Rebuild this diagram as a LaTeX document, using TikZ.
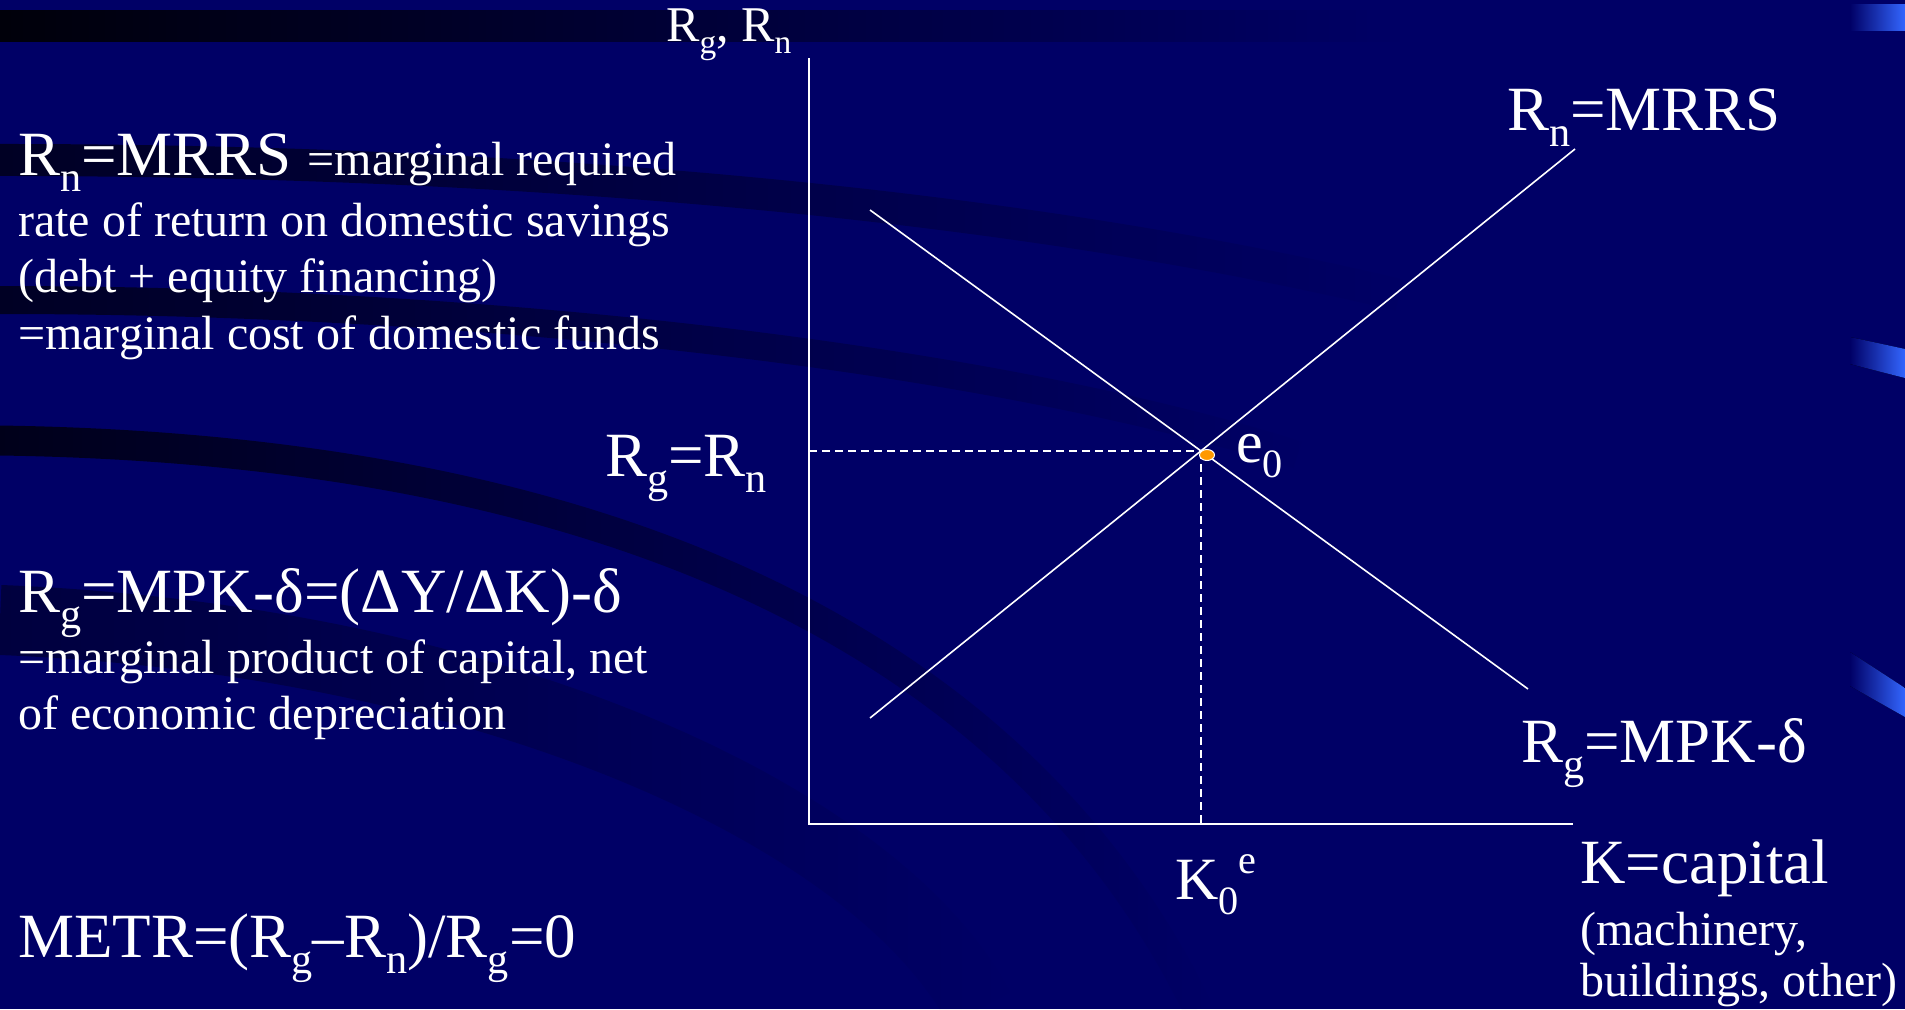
\documentclass[tikz,border=0pt]{standalone}
\usepackage{fontspec}
\usepackage{graphicx}
\setmainfont{Liberation Serif}
\usetikzlibrary{fadings,shapes.geometric}
\definecolor{navy}{RGB}{0,0,102}
\definecolor{tabblue}{RGB}{51,102,255}
\definecolor{dotorange}{RGB}{255,153,0}
\newcommand\lo[1]{\raisebox{-0.26em}{\scalebox{0.67}{#1}}}
\newcommand\hi[1]{\raisebox{0.42em}{\scalebox{0.67}{#1}}}
\tikzset{
  txt/.style={text=white,inner sep=0pt,anchor=base west},
  bigtxt/.style={txt,font=\fontsize{63}{75}\selectfont},
  smalltxt/.style={txt,font=\fontsize{48}{57}\selectfont},
  axis/.style={draw=white,line width=2.2pt},
  curve/.style={draw=white,line width=1.6pt},
  guide/.style={draw=white,line width=1.6pt,dash pattern=on 8pt off 5pt},
  swoosh/.style={draw=black,path fading=east},
  tab/.style={left color=navy,right color=tabblue,draw=none}
}
\begin{document}
\begin{tikzpicture}[x=1pt,y=-1pt]
% background
\fill[navy] (0,0) rectangle (1905,1009);
\useasboundingbox (0,0) rectangle (1905,1009);
\fill[black,path fading=east,opacity=0.9] (0,10) rectangle (1400,42);
\draw[swoosh,line width=32pt,draw opacity=0.65] (0,160) .. controls (500,160) and (1000,200) .. (1400,295);
\draw[swoosh,line width=28pt,draw opacity=0.65] (0,300) .. controls (500,300) and (1000,360) .. (1300,455);
\draw[swoosh,line width=30pt,draw opacity=0.75] (0,440) .. controls (700,450) and (1050,700) .. (1200,1009);
\draw[swoosh,line width=70pt,draw opacity=0.4] (0,620) .. controls (500,640) and (880,820) .. (980,1009);
% right tabs
\fill[tab] (1850,4) -- (1905,4) -- (1905,30) -- (1850,30) -- cycle;
\fill[tab] (1850,337) -- (1905,349) -- (1905,378) -- (1850,364) -- cycle;
\fill[tab] (1850,652) -- (1905,688) -- (1905,717) -- (1850,686) -- cycle;

% coordinates
\coordinate (O) at (809,824);
\coordinate (ytop) at (809,58);
\coordinate (xend) at (1573,824);
\coordinate (e0) at (1201,451);
\coordinate (ye) at (809,451);
\coordinate (xe) at (1201,824);
\coordinate (gA) at (870,210);
\coordinate (gB) at (1528,689);
\coordinate (nA) at (870,718);
\coordinate (nB) at (1575,149);

% axes and curves
\draw[axis] (ytop) -- (O) -- (xend);
\draw[guide] (ye) -- (e0);
\draw[guide] (e0) -- (xe);
\draw[curve] (gA) -- (gB);
\draw[curve] (nA) -- (nB);
\node[draw=white,line width=1pt,fill=dotorange,ellipse,minimum width=15pt,minimum height=11pt,inner sep=0pt] (dot) at (1207,455) {};

% graph labels
\node[txt,font=\fontsize{50}{60}\selectfont] (ylab) at (666,41) {R\lo{g}, R\lo{n}};
\node[bigtxt] (rnlab) at (1507,130) {R\lo{n}=MRRS};
\node[bigtxt] (rglab) at (1521,762) {R\lo{g}=MPK-δ};
\node[bigtxt] (eqlab) at (605,476) {R\lo{g}=R\lo{n}};
\node[txt,font=\fontsize{60}{72}\selectfont] (elab) at (1236,462) {e\lo{0}};
\node[txt,font=\fontsize{60}{72}\selectfont] (klab) at (1175,899) {K\lo{0}\hi{e}};
\node[bigtxt] (kcap) at (1580,883) {K=capital};
\node[smalltxt] (kcap2) at (1580,945) {(machinery,};
\node[smalltxt] (kcap3) at (1580,996) {buildings, other)};

% left text
\node[txt] (l1) at (18,175) {\fontsize{63}{75}\selectfont R\lo{n}=MRRS \fontsize{48}{57}\selectfont=marginal required};
\node[smalltxt] (l2) at (18,236) {rate of return on domestic savings};
\node[smalltxt] (l3) at (18,292) {(debt + equity financing)};
\node[smalltxt] (l4) at (18,349) {=marginal cost of domestic funds};
\node[bigtxt] (m1) at (18,612) {R\lo{g}=MPK-δ=(ΔY/ΔK)-δ};
\node[smalltxt] (m2) at (18,673) {=marginal product of capital, net};
\node[smalltxt] (m3) at (18,729) {of economic depreciation};
\node[bigtxt] (metr) at (18,957) {METR=(R\lo{g}–R\lo{n})/R\lo{g}=0};
\end{tikzpicture}
\end{document}
